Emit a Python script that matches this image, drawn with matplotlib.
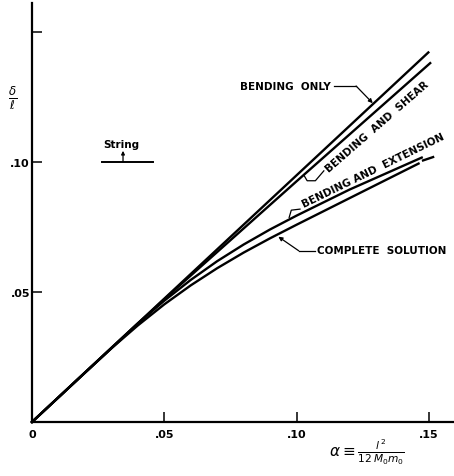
import matplotlib
matplotlib.use("Agg")
import matplotlib.pyplot as plt

# curves (alpha, delta/l)
bending_only_x = [0, 0.05, 0.10, 0.1498]
bending_only_y = [0, 0.0474, 0.0948, 0.1420]

bending_shear_x = [0, 0.05, 0.10, 0.1505]
bending_shear_y = [0, 0.0472, 0.0925, 0.1379]

bending_ext_x = [0, 0.02, 0.03, 0.04, 0.05, 0.06, 0.07, 0.08, 0.09, 0.10, 0.12, 0.1473]
bending_ext_y = [0, 0.0190, 0.0285, 0.0379, 0.0466, 0.0546, 0.0618, 0.0682, 0.0740,
                 0.0793, 0.0893, 0.1016]

complete_x = [0, 0.02, 0.03, 0.04, 0.05, 0.06, 0.07, 0.08, 0.09, 0.10, 0.12, 0.1461]
complete_y = [0, 0.0190, 0.0283, 0.0371, 0.0452, 0.0525, 0.0591, 0.0651, 0.0706,
              0.0758, 0.0860, 0.0993]
complete_ext_x = [0.1478, 0.1516]
complete_ext_y = [0.1005, 0.1018]

string_x = [0.0265, 0.0457]
string_y = [0.10, 0.10]

x_ticks = [0, 0.05, 0.10, 0.15]
x_tick_labels = ["0", ".05", ".10", ".15"]
y_ticks = [0.05, 0.10, 0.15]
y_tick_labels = [".05", ".10", ""]

LW = 1.7
FONT = dict(family="DejaVu Sans", fontweight="bold", fontsize=7.5, color="black")

fig = plt.figure(figsize=(4.54, 4.77), dpi=100)
ax = fig.add_axes([32 / 454, 54 / 477, 422 / 454, 419 / 477])
ax.set_xlim(0, 0.1595)
ax.set_ylim(0, 0.161)

for side in ["top", "right"]:
    ax.spines[side].set_visible(False)
for side in ["left", "bottom"]:
    ax.spines[side].set_linewidth(1.6)
    ax.spines[side].set_color("black")

ax.set_xticks(x_ticks)
ax.set_xticklabels(x_tick_labels)
ax.set_yticks(y_ticks)
ax.set_yticklabels(y_tick_labels)
ax.tick_params(axis="both", direction="in", length=7.5, width=1.1, colors="black",
               labelsize=8)
ax.tick_params(axis="x", pad=5)
ax.tick_params(axis="y", pad=1.5)
for lab in ax.get_xticklabels() + ax.get_yticklabels():
    lab.set_fontweight("bold")

ax.plot(bending_only_x, bending_only_y, color="black", lw=LW, clip_on=False)
ax.plot(bending_shear_x, bending_shear_y, color="black", lw=LW, clip_on=False)
ax.plot(bending_ext_x, bending_ext_y, color="black", lw=LW, clip_on=False)
ax.plot(complete_x, complete_y, color="black", lw=LW, clip_on=False)
ax.plot(complete_ext_x, complete_ext_y, color="black", lw=LW, clip_on=False)

# "String" marker
ax.plot(string_x, string_y, color="black", lw=1.4)
ax.annotate("", xy=(0.0344, 0.1042), xytext=(0.0344, 0.1),
            arrowprops=dict(arrowstyle="-|>", color="black", lw=0.9,
                            mutation_scale=5, shrinkA=0, shrinkB=0))
ax.text(0.0336, 0.1068, "String", ha="center", va="center", **FONT)

# labels with leaders
arrow = dict(arrowstyle="-|>", color="black", lw=0.9, mutation_scale=6,
             shrinkA=0, shrinkB=0)

ax.text(0.0786, 0.1291, "BENDING  ONLY", ha="left", va="center", **FONT)
ax.plot([0.1142, 0.1225], [0.1291, 0.1291], color="black", lw=0.9)
ax.annotate("", xy=(0.1288, 0.1225), xytext=(0.1225, 0.1291), arrowprops=arrow)

ax.text(0.1304, 0.1138, "BENDING  AND  SHEAR", ha="center", va="center",
        rotation=41, rotation_mode="anchor", **FONT)
ax.plot([0.1103, 0.1071, 0.1040, 0.1029], [0.0965, 0.0927, 0.0927, 0.0946],
        color="black", lw=0.9)

ax.text(0.1290, 0.0968, "BENDING AND  EXTENSION", ha="center", va="center",
        rotation=26, rotation_mode="anchor", **FONT)
ax.plot([0.1013, 0.0980, 0.0972], [0.0818, 0.0814, 0.0786], color="black", lw=0.9)

ax.text(0.1078, 0.0661, "COMPLETE  SOLUTION", ha="left", va="center", **FONT)
ax.plot([0.1071, 0.1008], [0.0658, 0.0658], color="black", lw=0.9)
ax.annotate("", xy=(0.0931, 0.0712), xytext=(0.1008, 0.0658), arrowprops=arrow)

# axis labels
ax.text(-0.0072, 0.1249, r"$\frac{\delta}{\ell}$", ha="center", va="center",
        fontsize=12, clip_on=False)
ax.text(0.1265, -0.0111, r"$\alpha \equiv \frac{l^{\,2}}{12\,M_0 m_0}$",
        ha="center", va="center", fontsize=11, clip_on=False)

fig.savefig("out.png", dpi=100)
plt.close()
